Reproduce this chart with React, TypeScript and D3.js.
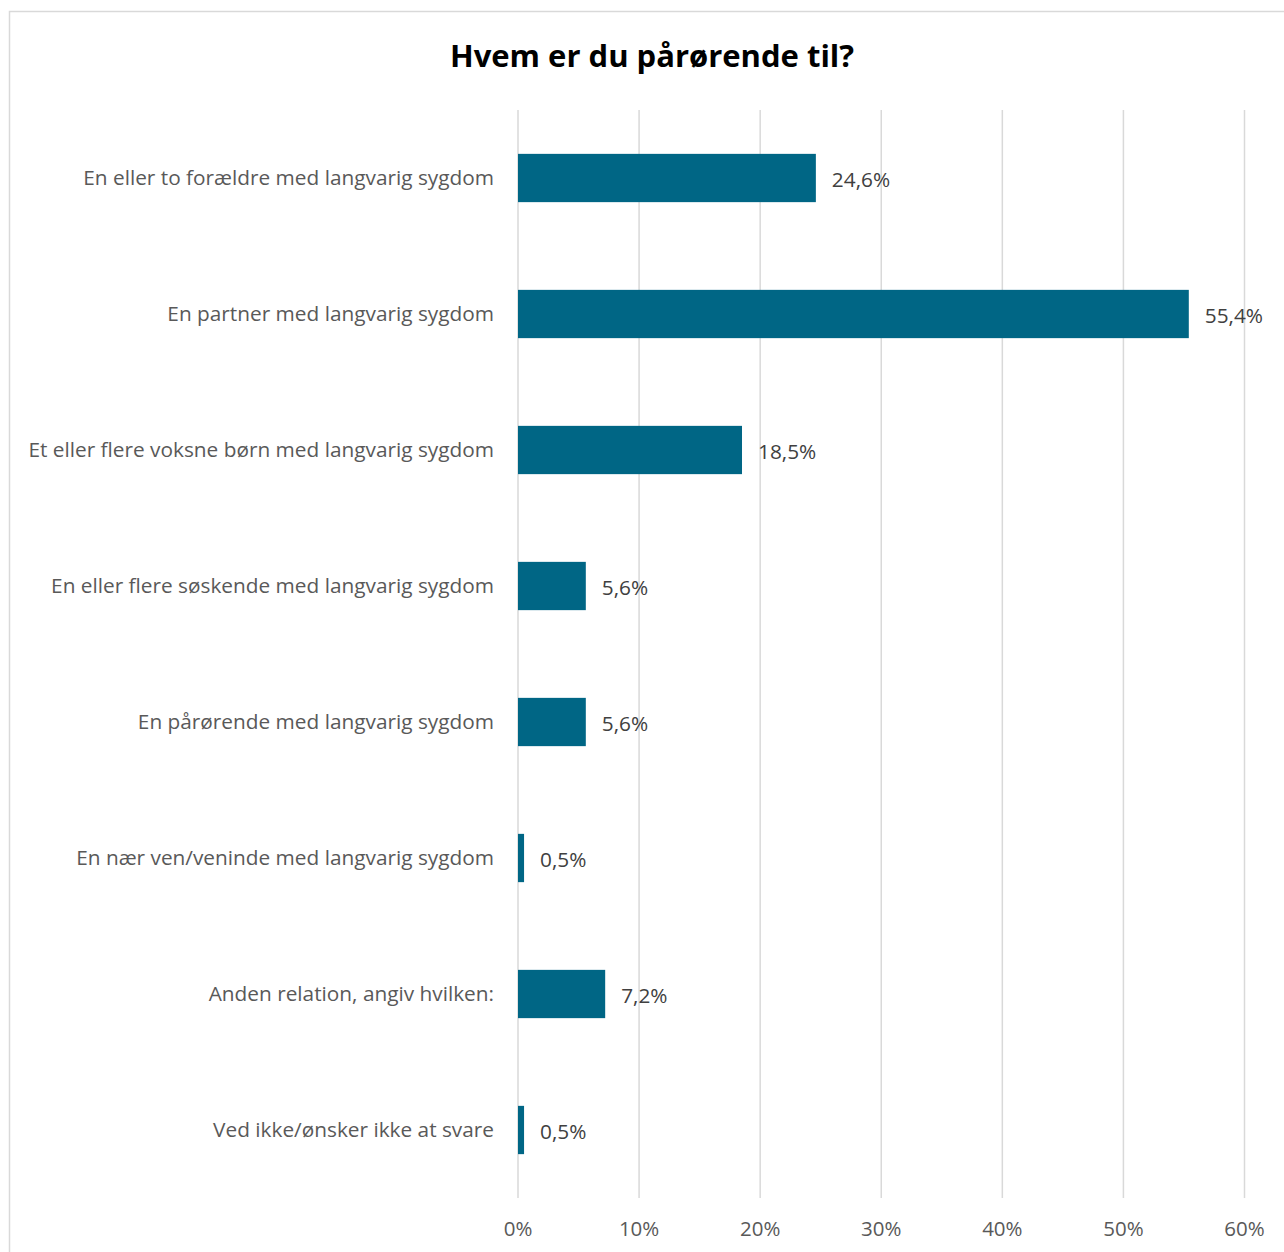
import React from "react";
import * as d3 from "d3";

const categories = [
  "En eller to forældre med langvarig sygdom",
  "En partner med langvarig sygdom",
  "Et eller flere voksne børn med langvarig sygdom",
  "En eller flere søskende med langvarig sygdom",
  "En pårørende med langvarig sygdom",
  "En nær ven/veninde med langvarig sygdom",
  "Anden relation, angiv hvilken:",
  "Ved ikke/ønsker ikke at svare",
];
const values = [24.6, 55.4, 18.5, 5.6, 5.6, 0.5, 7.2, 0.5];
const ticks = [0, 10, 20, 30, 40, 50, 60];
const title = "Hvem er du pårørende til?";

const W = 1284;
const H = 1252;
const plot = { left: 518, right: 1244.5, top: 110, bottom: 1198 };
const FONT = "'Open Sans', 'Noto Sans', sans-serif";

export default function App() {
  const x = d3.scaleLinear().domain([0, 60]).range([plot.left, plot.right]);
  const y = d3
    .scaleBand<string>()
    .domain(categories)
    .range([plot.top, plot.bottom])
    .paddingInner(0.645)
    .paddingOuter(0.3225);
  const fmt = (v: number) => v.toFixed(1).replace(".", ",") + "%";

  return (
    <svg
      width={W}
      height={H}
      style={{ position: "absolute", left: 0, top: 0, display: "block", background: "#fff" }}
      fontFamily={FONT}
    >
      <rect x={9.5} y={11.5} width={1300} height={1300} fill="#fff" stroke="#d9d9d9" strokeWidth={1.5} />
      <text x={652} y={67} textAnchor="middle" fontSize={31} fontWeight={700} fill="#000">
        {title}
      </text>
      {ticks.map((t) => (
        <g key={t}>
          <line x1={x(t)} x2={x(t)} y1={plot.top} y2={plot.bottom} stroke="#d9d9d9" strokeWidth={1.5} />
          <text x={x(t)} y={1236} textAnchor="middle" fontSize={20.5} fill="#595959">
            {t + "%"}
          </text>
        </g>
      ))}
      {categories.map((c, i) => {
        const yc = (y(c) as number) + y.bandwidth() / 2;
        return (
          <g key={c}>
            <rect x={x(0)} y={y(c)} width={x(values[i]) - x(0)} height={y.bandwidth()} fill="#006685" />
            <text x={494} y={yc} dy="0.35em" textAnchor="end" fontSize={20.8} fill="#595959">
              {c}
            </text>
            <text x={x(values[i]) + 16} y={yc + 2} dy="0.35em" fontSize={20.8} fill="#404040">
              {fmt(values[i])}
            </text>
          </g>
        );
      })}
    </svg>
  );
}
